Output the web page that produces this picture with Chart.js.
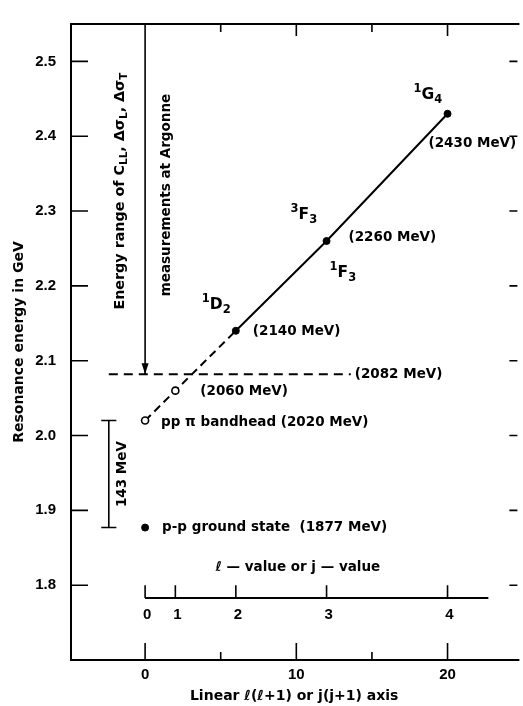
<!DOCTYPE html>
<html><head><meta charset="utf-8">
<script src="https://cdn.jsdelivr.net/npm/chart.js@4"></script>
<style>html,body{margin:0;padding:0;background:#fff}#wrap{width:523px;height:706px}</style>
</head><body><div id="wrap"><canvas id="c" width="523" height="706"></canvas></div>
<script>
// ---- data ----
const yTickValues = [1.8, 1.9, 2.0, 2.1, 2.2, 2.3, 2.4, 2.5];
const xTickLabels = [0, 10, 20];
const xTickMarks = [0, 5, 10, 15, 20];
const lValues = [0, 1, 2, 3, 4];
const lAxisPositions = [0, 2, 6, 12, 20];          // l(l+1)
const solidX = [6, 12, 20];
const solidY = [2.14, 2.26, 2.43];
const dashedX = [0, 2, 6];
const dashedY = [2.02, 2.06, 2.14];
const groundX = [0];
const groundY = [1.877];
const thresholdEnergy = 2.082;
const thresholdSpan = [-2.4, 13.6];
const bracketX = -2.4;
const bracketEnergies = [2.02, 1.877];
const bracketHalfWidth = 0.5;
const lAxisEnergy = 1.783;
const lAxisTickTop = 1.8;
const lAxisEnd = 22.7;
const energyLabels = ['(2430 MeV)', '(2260 MeV)', '(2140 MeV)', '(2082 MeV)', '(2060 MeV)',
  'pp \u03c0 bandhead (2020 MeV)', 'p-p ground state  (1877 MeV)'];
const X_MIN = -4.9, X_MAX = 24.62, Y_MIN = 1.70, Y_MAX = 2.55;

const FF = '"DejaVu Sans", sans-serif';
const fMain = 'bold 13.5px ' + FF;

const pts = (xs, ys) => xs.map((x, i) => ({x, y: ys[i]}));
const lineDs = (data, extra) => Object.assign({
  data, showLine: true, borderColor: '#000', borderWidth: 2, pointRadius: 0,
  fill: false, tension: 0
}, extra || {});

const datasets = [
  lineDs(pts(solidX, solidY), {pointRadius: 3.5, pointBackgroundColor: '#000', pointBorderColor: '#000', pointBorderWidth: 1}),
  lineDs(pts(dashedX, dashedY), {borderDash: [8, 5], pointRadius: [3.5, 3.5, 0],
    pointBackgroundColor: '#fff', pointBorderColor: '#000', pointBorderWidth: 1.6}),
  lineDs(pts(thresholdSpan, [thresholdEnergy, thresholdEnergy]), {borderDash: [9, 6]}),
  lineDs(pts([0, 0], [Y_MAX, thresholdEnergy]), {borderWidth: 1.6}),
  lineDs(pts([bracketX, bracketX], bracketEnergies), {borderWidth: 1.6}),
  lineDs(pts([bracketX - bracketHalfWidth, bracketX + bracketHalfWidth], [bracketEnergies[0], bracketEnergies[0]]), {borderWidth: 1.6}),
  lineDs(pts([bracketX - bracketHalfWidth, bracketX + bracketHalfWidth], [bracketEnergies[1], bracketEnergies[1]]), {borderWidth: 1.6}),
  {data: pts(groundX, groundY), showLine: false, pointRadius: 3.5, pointBackgroundColor: '#000', pointBorderColor: '#000'},
  lineDs(pts([0, lAxisEnd], [lAxisEnergy, lAxisEnergy]), {borderWidth: 2}),
  ...lAxisPositions.map(p => lineDs(pts([p, p], [lAxisEnergy, lAxisTickTop]), {borderWidth: 1.6}))
];

function drawRich(ctx, parts, x, y, align) {
  const widths = parts.map(p => { ctx.font = p.f; return ctx.measureText(p.t).width; });
  const total = widths.reduce((a, b) => a + b, 0);
  let cx = align === 'center' ? x - total / 2 : x;
  ctx.textAlign = 'left';
  parts.forEach((p, i) => { ctx.font = p.f; ctx.fillText(p.t, cx, y + (p.dy || 0)); cx += widths[i]; });
}

const deco = {
  id: 'deco',
  afterDraw(chart) {
    const ctx = chart.ctx, xs = chart.scales.x, ys = chart.scales.y, a = chart.chartArea;
    const X = v => xs.getPixelForValue(v), Y = v => ys.getPixelForValue(v);
    ctx.save();
    ctx.strokeStyle = '#000'; ctx.fillStyle = '#000'; ctx.lineCap = 'butt';
    // frame (left, top, bottom)
    ctx.lineWidth = 2;
    ctx.beginPath();
    ctx.moveTo(a.right + 2, a.top); ctx.lineTo(a.left, a.top); ctx.lineTo(a.left, a.bottom); ctx.lineTo(a.right + 2, a.bottom);
    ctx.stroke();
    // inward tick marks
    ctx.lineWidth = 1.6;
    ctx.beginPath();
    yTickValues.forEach(v => {
      ctx.moveTo(a.left, Y(v)); ctx.lineTo(a.left + 17, Y(v));
      ctx.moveTo(a.right, Y(v)); ctx.lineTo(a.right - 8, Y(v));
    });
    xTickMarks.forEach(v => {
      const major = v % 10 === 0;
      ctx.moveTo(X(v), a.bottom); ctx.lineTo(X(v), a.bottom - (major ? 17 : 8));
      if (v !== 0) { ctx.moveTo(X(v), a.top); ctx.lineTo(X(v), a.top + (major ? 12 : 8)); }
    });
    ctx.stroke();
    // arrow head on Argonne line
    const ax = X(0), ay = Y(thresholdEnergy);
    ctx.beginPath(); ctx.moveTo(ax, ay); ctx.lineTo(ax - 3.5, ay - 11); ctx.lineTo(ax + 3.5, ay - 11); ctx.closePath(); ctx.fill();

    // energy labels
    ctx.font = fMain; ctx.textBaseline = 'middle'; ctx.textAlign = 'left';
    ctx.fillText(energyLabels[0], X(solidX[2]) - 19, Y(solidY[2]) + 30);
    ctx.fillText(energyLabels[1], X(solidX[1]) + 22, Y(solidY[1]) - 3);
    ctx.fillText(energyLabels[2], X(solidX[0]) + 17, Y(solidY[0]) + 1);
    ctx.fillText(energyLabels[3], X(thresholdSpan[1]) + 4, Y(thresholdEnergy));
    ctx.fillText(energyLabels[4], X(dashedX[1]) + 25, Y(dashedY[1]) + 1);
    ctx.fillText(energyLabels[5], X(dashedX[0]) + 16, Y(dashedY[0]) + 2);
    ctx.fillText(energyLabels[6], X(groundX[0]) + 17, Y(groundY[0]));

    // state labels
    const big = 'bold 15.5px ' + FF, sm = 'bold 11.5px ' + FF;
    const state = (sup, L, sub, x, y) => drawRich(ctx, [{t: sup, f: sm, dy: -6}, {t: L, f: big}, {t: sub, f: sm, dy: 5}], x, y, 'left');
    state('1', 'G', '4', X(solidX[2]) - 34, Y(solidY[2]) - 19);
    state('3', 'F', '3', X(solidX[1]) - 36, Y(solidY[1]) - 26);
    state('1', 'F', '3', X(solidX[1]) + 3, Y(solidY[1]) + 32);
    state('1', 'D', '2', X(solidX[0]) - 34, Y(solidY[0]) - 26);

    // l-axis numbers and title
    ctx.font = 'bold 15px "Liberation Sans", Arial, sans-serif'; ctx.textAlign = 'center';
    lValues.forEach((l, i) => ctx.fillText(String(l), X(lAxisPositions[i]) + 2, Y(lAxisEnergy) + 17));
    ctx.font = fMain;
    ctx.fillText('\u2113 \u2014 value or j \u2014 value', X(10.1), Y(lAxisTickTop) - 18);

    // rotated labels
    const topPx = a.top, thrPx = Y(thresholdEnergy), mid = (topPx + thrPx) / 2;
    const fBig = 'bold 14.3px ' + FF, sub = 'bold 10.5px ' + FF;
    ctx.save(); ctx.translate(X(0) - 25, mid - 8); ctx.rotate(-Math.PI / 2);
    drawRich(ctx, [{t: 'Energy range of C', f: fBig}, {t: 'LL', f: sub, dy: 4}, {t: ', \u0394\u03c3', f: fBig},
      {t: 'L', f: sub, dy: 4}, {t: ', \u0394\u03c3', f: fBig}, {t: 'T', f: sub, dy: 4}], 0, 0, 'center');
    ctx.restore();
    ctx.save(); ctx.translate(X(0) + 21, mid - 4); ctx.rotate(-Math.PI / 2);
    ctx.font = fMain; ctx.textAlign = 'center'; ctx.fillText('measurements at Argonne', 0, 0);
    ctx.restore();
    ctx.save(); ctx.translate(X(bracketX) + 14, (Y(bracketEnergies[0]) + Y(bracketEnergies[1])) / 2); ctx.rotate(-Math.PI / 2);
    ctx.font = 'bold 13.5px ' + FF; ctx.textAlign = 'center'; ctx.fillText('143 MeV', 0, 0);
    ctx.restore();
    ctx.restore();
  }
};

new Chart(document.getElementById('c'), {
  type: 'scatter',
  data: {datasets},
  options: {
    responsive: false, animation: false, devicePixelRatio: 1,
    layout: {padding: {top: 12, right: 0, left: 0, bottom: 0}},
    plugins: {legend: {display: false}, tooltip: {enabled: false}},
    elements: {line: {borderCapStyle: 'butt'}},
    scales: {
      x: {
        type: 'linear', min: X_MIN, max: X_MAX,
        grid: {display: false, drawTicks: false}, border: {display: false},
        afterBuildTicks: s => { s.ticks = xTickLabels.map(v => ({value: v})); },
        ticks: {font: {family: '"Liberation Sans", Arial, sans-serif', size: 15, weight: 'bold'}, color: '#000',
          padding: 6, maxRotation: 0, autoSkip: false, callback: v => String(v)},
        title: {display: true, text: 'Linear \u2113(\u2113+1) or j(j+1) axis', color: '#000',
          font: {family: FF, size: 14, weight: 'bold'}, padding: {top: 0, bottom: 1}},
        afterFit: s => { s.height = 46; }
      },
      y: {
        type: 'linear', min: Y_MIN, max: Y_MAX,
        grid: {display: false, drawTicks: false}, border: {display: false},
        afterBuildTicks: s => { s.ticks = yTickValues.map(v => ({value: v})); },
        ticks: {font: {family: '"Liberation Sans", Arial, sans-serif', size: 15, weight: 'bold'}, color: '#000',
          padding: 15, autoSkip: false, callback: v => Number(v).toFixed(1)},
        title: {display: true, text: 'Resonance energy in GeV', color: '#000',
          font: {family: FF, size: 14, weight: 'bold'}, padding: {top: 11, bottom: 0}},
        afterFit: s => { s.width = 71; }
      }
    }
  },
  plugins: [deco]
});
</script></body></html>
